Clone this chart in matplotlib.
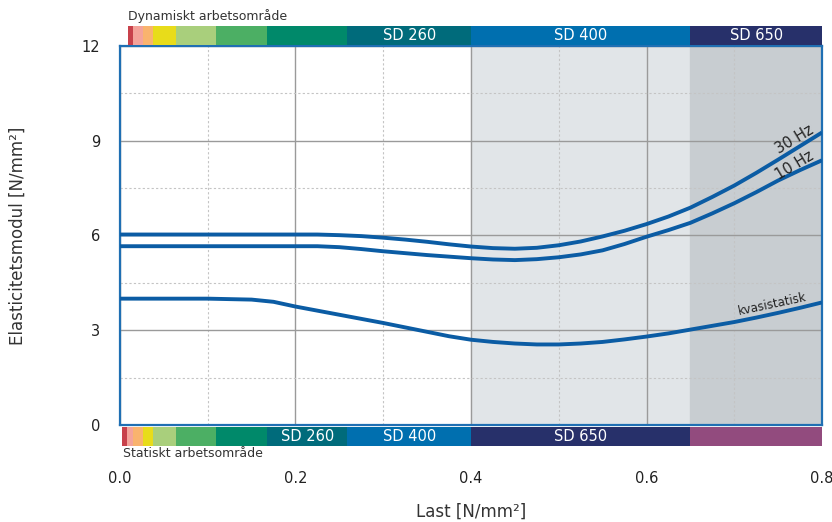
import matplotlib
matplotlib.use("Agg")
import matplotlib.pyplot as plt

# load values [N/mm2]
last = [0.0, 0.05, 0.1, 0.15, 0.175, 0.2, 0.225, 0.25, 0.275, 0.3, 0.325, 0.35, 0.375, 0.4,
        0.425, 0.45, 0.475, 0.5, 0.525, 0.55, 0.575, 0.6, 0.625, 0.65, 0.675, 0.7, 0.725,
        0.75, 0.775, 0.8]
# elasticity modulus [N/mm2]
e_30hz = [6.03, 6.03, 6.03, 6.03, 6.03, 6.03, 6.03, 6.01, 5.98, 5.93, 5.87, 5.80, 5.72, 5.65,
          5.60, 5.58, 5.61, 5.69, 5.81, 5.97, 6.15, 6.36, 6.60, 6.88, 7.22, 7.58, 7.98,
          8.40, 8.83, 9.26]
e_10hz = [5.66, 5.66, 5.66, 5.66, 5.66, 5.66, 5.66, 5.63, 5.57, 5.50, 5.44, 5.38, 5.33, 5.28,
          5.24, 5.22, 5.25, 5.31, 5.40, 5.53, 5.73, 5.96, 6.17, 6.40, 6.70, 7.02, 7.37,
          7.74, 8.07, 8.38]
e_kvasi = [4.00, 4.00, 4.00, 3.97, 3.90, 3.75, 3.62, 3.49, 3.36, 3.23, 3.09, 2.95, 2.81, 2.70,
           2.63, 2.58, 2.55, 2.55, 2.58, 2.63, 2.71, 2.80, 2.90, 3.02, 3.14, 3.26, 3.40,
           3.55, 3.71, 3.88]

# working range bars (start, end, colour, label)
dyn_start = [0.0095, 0.0152, 0.026, 0.038, 0.064, 0.1095, 0.168, 0.259, 0.4, 0.65]
dyn_end = [0.0152, 0.026, 0.038, 0.064, 0.1095, 0.168, 0.259, 0.4, 0.65, 0.8]
dyn_colors = ['#c8414b', '#f4a39a', '#f9b36e', '#e8dc1a', '#a9cf7c', '#4caf64', '#00896a',
              '#006b7b', '#006faf', '#27306a']
dyn_labels = ['', '', '', '', '', '', '', 'SD 260', 'SD 400', 'SD 650']

stat_start = [0.0026, 0.0083, 0.015, 0.026, 0.038, 0.064, 0.1095, 0.168, 0.259, 0.4, 0.65]
stat_end = [0.0083, 0.015, 0.026, 0.038, 0.064, 0.1095, 0.168, 0.259, 0.4, 0.65, 0.8]
stat_colors = ['#c8414b', '#f4a39a', '#f9b36e', '#e8dc1a', '#a9cf7c', '#4caf64', '#00896a',
               '#006b7b', '#006faf', '#27306a', '#924b7e']
stat_labels = ['', '', '', '', '', '', '', 'SD 260', 'SD 400', 'SD 650', '']

line_color = '#0b5ca4'
text_color = '#333333'

fig = plt.figure(figsize=(8.32, 5.22), dpi=100)
ax = fig.add_axes([0.1442, 0.1858, 0.8438, 0.7262])
ax.set_xlim(0, 0.8)
ax.set_ylim(0, 12)

ax.axvspan(0.4, 0.65, color='#e1e5e8', zorder=0)
ax.axvspan(0.65, 0.8, color='#c8cdd1', zorder=0)

ax.set_xticks([0, 0.2, 0.4, 0.6, 0.8])
ax.set_xticks([0.1, 0.3, 0.5, 0.7], minor=True)
ax.set_yticks([0, 3, 6, 9, 12])
ax.set_yticks([1.5, 4.5, 7.5, 10.5], minor=True)
ax.grid(which='major', color='#9a9a9a', lw=1.0, zorder=1)
ax.grid(which='minor', color='#c4c4c4', lw=0.8, ls=(0, (2, 2)), zorder=1)
ax.set_axisbelow(True)
ax.set_xticklabels(['0.0', '0.2', '0.4', '0.6', '0.8'])
ax.tick_params(which='both', length=0, labelsize=10.5, colors='#222222')
ax.tick_params(axis='x', pad=33)
ax.tick_params(axis='y', pad=14)
for s in ax.spines.values():
    s.set_color('#1f6fb3')
    s.set_linewidth(1.6)

for y in (e_30hz, e_10hz, e_kvasi):
    ax.plot(last, y, color=line_color, lw=2.8, solid_joinstyle='round',
            solid_capstyle='butt', zorder=3)

# working range bars
ax.bar(dyn_start, 0.6, width=[e - s for s, e in zip(dyn_start, dyn_end)], bottom=12.03,
       align='edge', color=dyn_colors, clip_on=False, zorder=4)
for s, e, lab in zip(dyn_start, dyn_end, dyn_labels):
    if lab:
        ax.text((s + e) / 2, 12.33, lab, color='white', ha='center', va='center',
                fontsize=10.5, clip_on=False, zorder=6)
ax.bar(stat_start, 0.6, width=[e - s for s, e in zip(stat_start, stat_end)], bottom=-0.65,
       align='edge', color=stat_colors, clip_on=False, zorder=4)
for s, e, lab in zip(stat_start, stat_end, stat_labels):
    if lab:
        ax.text((s + e) / 2, -0.35, lab, color='white', ha='center', va='center',
                fontsize=10.5, clip_on=False, zorder=6)

ax.text(0.009, 12.95, 'Dynamiskt arbetsområde', fontsize=9, color=text_color,
        ha='left', va='center')
ax.text(0.003, -0.9, 'Statiskt arbetsområde', fontsize=9, color=text_color,
        ha='left', va='center')

ax.text(0.769, 9.05, '30 Hz', rotation=31, fontsize=10.5, color='#222222',
        ha='center', va='center')
ax.text(0.769, 8.22, '10 Hz', rotation=31, fontsize=10.5, color='#222222',
        ha='center', va='center')
ax.text(0.743, 3.81, 'kvasistatisk', rotation=12, fontsize=8.5, color='#222222',
        ha='center', va='center')

ax.set_xlabel('Last [N/mm²]', fontsize=12, color=text_color, labelpad=12)
ax.set_ylabel('Elasticitetsmodul [N/mm²]', fontsize=12, color=text_color, labelpad=40)

fig.savefig('out.png', dpi=100)
